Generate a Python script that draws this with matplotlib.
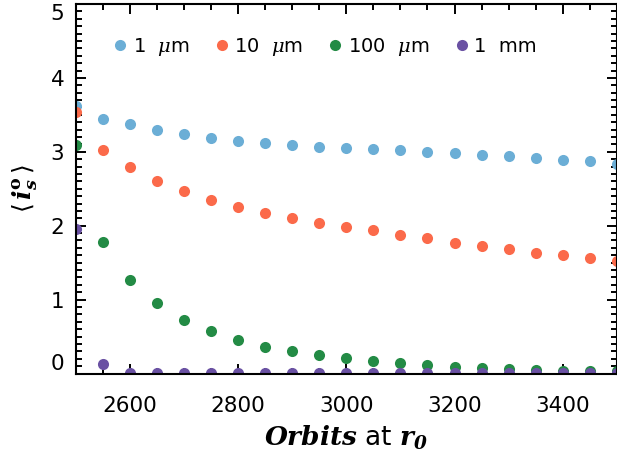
import numpy as np
import matplotlib
matplotlib.use("Agg")
import matplotlib.pyplot as plt
from matplotlib.ticker import MultipleLocator

# mean inclination of each grain size vs orbit count
orbits = [2500, 2550, 2600, 2650, 2700, 2750, 2800, 2850, 2900, 2950, 3000,
          3050, 3100, 3150, 3200, 3250, 3300, 3350, 3400, 3450, 3500]
incl_1um = [3.62, 3.44, 3.37, 3.29, 3.24, 3.19, 3.14, 3.12, 3.09, 3.07, 3.05,
            3.04, 3.02, 3.00, 2.98, 2.96, 2.94, 2.91, 2.89, 2.88, 2.84]
incl_10um = [3.54, 3.03, 2.79, 2.61, 2.47, 2.35, 2.25, 2.17, 2.10, 2.03, 1.98,
             1.94, 1.88, 1.83, 1.77, 1.72, 1.68, 1.63, 1.60, 1.56, 1.52]
incl_100um = [3.09, 1.78, 1.26, 0.95, 0.73, 0.57, 0.45, 0.36, 0.30, 0.25, 0.21,
              0.17, 0.14, 0.11, 0.085, 0.08, 0.06, 0.05, 0.04, 0.03, 0.03]
incl_1mm = [1.96, 0.13, 0.01, 0.01, 0.01, 0.01, 0.01, 0.01, 0.01, 0.01, 0.01,
            0.01, 0.01, 0.01, 0.01, 0.01, 0.01, 0.01, 0.01, 0.01, 0.01]

labels = ['1  $\\mu$m', '10  $\\mu$m', '100  $\\mu$m', '1  mm']
colors = ['#6BAED6', '#FB6A4A', '#238B45', '#6A51A3']

plt.rcParams['font.family'] = ['DejaVu Sans']
plt.rcParams['mathtext.fontset'] = 'dejavuserif'

fig = plt.figure(figsize=(6.17, 4.55), dpi=100)
ax = fig.add_axes([0.1224, 0.1791, 0.8776, 0.8121])

for ys, c, lab in zip([incl_1um, incl_10um, incl_100um, incl_1mm], colors, labels):
    ax.plot(orbits, ys, 'o', color=c, ms=8, mec='none', label=lab)

ax.set_xlim(2500, 3500)
ax.set_ylim(0, 5.0)
ax.xaxis.set_major_locator(MultipleLocator(200))
ax.xaxis.set_minor_locator(MultipleLocator(50))
ax.set_yticks([0, 1, 2, 3, 4, 5])
ax.yaxis.set_minor_locator(MultipleLocator(0.1))

for s in ax.spines.values():
    s.set_linewidth(1.5)
ax.tick_params(which='both', direction='in', top=True, right=True, width=1.4)
ax.tick_params(which='major', length=7, labelsize=15.5)
ax.tick_params(which='minor', length=4.3)
ax.tick_params(axis='x', pad=16)
ax.tick_params(axis='y', pad=8)

# keep the top and bottom y labels inside the figure
ylabs = ax.get_yticklabels()
ylabs[-1].set_va('top')
ylabs[0].set_va('bottom')

ax.set_xlabel(r'$\mathbfit{Orbits}$ at $\mathbfit{r}_{\mathbfit{0}}$', fontsize=19, labelpad=6)
ax.set_ylabel(r'$\langle\,\mathbfit{i}^{\mathbf{o}}_{\mathbfit{s}}\,\rangle$', fontsize=18, labelpad=8)

ax.legend(loc='upper left', bbox_to_anchor=(0.05, 0.935), ncol=4, frameon=False,
          fontsize=14, handletextpad=0.15, columnspacing=1.15, handlelength=1.0,
          borderaxespad=0)

fig.savefig('out.png', dpi=100)
